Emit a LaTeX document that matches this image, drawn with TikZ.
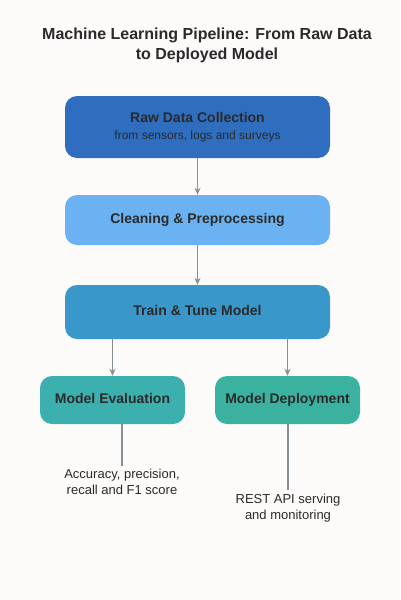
\documentclass[tikz,border=0pt]{standalone}
\usepackage{fontspec}
\setmainfont{Liberation Sans}
\usetikzlibrary{arrows.meta}
\definecolor{bgc}{HTML}{FDFAFA}
\definecolor{cA}{HTML}{2F6DBE}
\definecolor{cB}{HTML}{6AB2F2}
\definecolor{cC}{HTML}{3A97CA}
\definecolor{cD}{HTML}{3CB0AE}
\definecolor{cE}{HTML}{3AB29F}
\definecolor{txt}{HTML}{2A2A2A}
\definecolor{lnc}{HTML}{8A8F96}
\tikzset{
  stage/.style={draw=none, rounded corners=12pt, text=txt, font=\bfseries\fontsize{14}{17}\selectfont, align=center, inner sep=0pt},
  oneline/.style={text height=10pt, text depth=3pt},
  note/.style={text=txt, font=\fontsize{13}{16}\selectfont, align=center},
  conn/.style={draw=lnc, line width=1.2pt, -{Stealth[length=7pt,width=6pt]}},
  plain/.style={draw=lnc, line width=1.2pt}
}
\begin{document}
\begin{tikzpicture}[x=1pt,y=-1pt]
\fill[bgc] (0,0) rectangle (400,600);
\useasboundingbox (0,0) rectangle (400,600);
\node[note, font=\bfseries\fontsize{16}{20}\selectfont] (title) at (207,45) {Machine Learning Pipeline: From Raw Data\\to Deployed Model};
\node[stage, fill=cA, minimum width=265pt, minimum height=62pt] (s1) at (197.5,127) {Raw Data Collection\\{\mdseries\fontsize{12}{15}\selectfont from sensors, logs and surveys}};
\node[stage, oneline, fill=cB, minimum width=265pt, minimum height=50pt] (s2) at (197.5,220) {Cleaning \& Preprocessing};
\node[stage, oneline, fill=cC, minimum width=265pt, minimum height=54pt] (s3) at (197.5,312) {Train \& Tune Model};
\node[stage, oneline, fill=cD, minimum width=145pt, minimum height=48pt] (s4) at (112.5,400) {Model Evaluation};
\node[stage, oneline, fill=cE, minimum width=145pt, minimum height=48pt] (s5) at (287.5,400) {Model Deployment};
\node[note] (n4) at (122,482) {Accuracy, precision,\\recall and F1 score};
\node[note] (n5) at (288,508) {REST API serving\\and monitoring};
\draw[conn] (s1) -- (s2);
\draw[conn] (s2) -- (s3);
\draw[conn] (s3.south -| s4) -- (s4);
\draw[conn] (s3.south -| s5) -- (s5);
\draw[plain] (s4.south -| n4) -- (n4);
\draw[plain] (s5.south -| n5) -- (n5);
\end{tikzpicture}
\end{document}
